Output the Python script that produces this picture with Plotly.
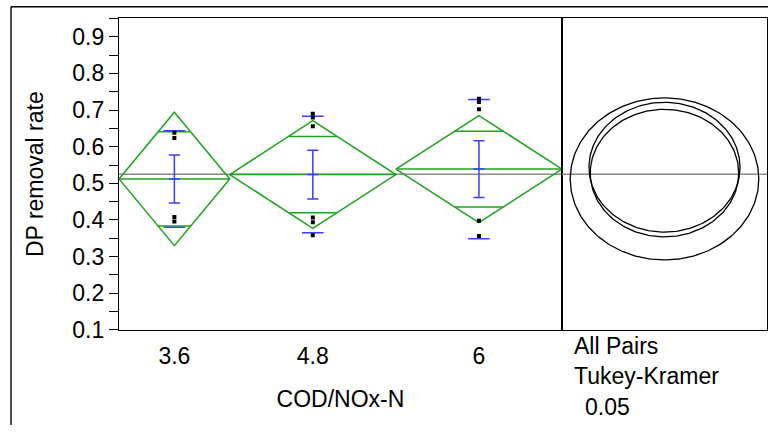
import numpy as np
import plotly.graph_objects as go

# ---------------- data ----------------
groups = ["3.6", "4.8", "6"]
group_n = [4, 6, 6]
group_mean = [0.512, 0.524, 0.539]
diamond_ci = [0.182, 0.147, 0.146]       # half height of the means diamonds
std_dev = [0.1315, 0.159, 0.190]         # blue std-dev lines
std_err = [0.0655, 0.0665, 0.0775]       # blue mean error bars
grand_mean = 0.525
points_36 = [0.638, 0.624, 0.408, 0.396]
points_48 = [0.690, 0.680, 0.656, 0.407, 0.394, 0.358]
points_6 = [0.731, 0.722, 0.702, 0.398, 0.356]
circle_center = [0.512, 0.528, 0.544]   # Tukey-Kramer comparison circles
circle_radius = [0.221, 0.174, 0.177]
y_tick_vals = [0.1, 0.15, 0.2, 0.25, 0.3, 0.35, 0.4, 0.45, 0.5, 0.55,
               0.6, 0.65, 0.7, 0.75, 0.8, 0.85, 0.9, 0.95]
y_tick_text = ["0.1", "", "0.2", "", "0.3", "", "0.4", "", "0.5", "",
               "0.6", "", "0.7", "", "0.8", "", "0.9", ""]
circle_labels = ["All Pairs", "Tukey-Kramer", "0.05"]

GREEN = "#1fa31f"
BLUE = "#3c3cff"
GRAY = "#8a8a8a"
FONT = "Liberation Sans, Arial, sans-serif"
FS = 23

W, H = 768, 438
xl, xr, xp = 119 / W, 562 / W, 767 / W
yb, yt = 1 - 340 / H, 1 - 19 / H

edges = np.concatenate([[0], np.cumsum(group_n)]).astype(float)
centers = (edges[:-1] + edges[1:]) / 2
xmax = edges[-1]
points = [points_36, points_48, points_6]

fig = go.Figure()

# grand mean line (main panel)
fig.add_trace(go.Scatter(x=[0, xmax], y=[grand_mean, grand_mean], mode="lines",
                         line=dict(color=GRAY, width=1.6), hoverinfo="skip",
                         showlegend=False, xaxis="x", yaxis="y"))

# means diamonds
for i in range(len(groups)):
    L, R, c = edges[i], edges[i + 1], centers[i]
    m, ci = group_mean[i], diamond_ci[i]
    hw = (R - L) / 2 * (1 - 1 / np.sqrt(2))
    ov = ci / np.sqrt(2)
    xs = [L, c, R, c, L, None, L, R, None, c - hw, c + hw, None, c - hw, c + hw]
    ys = [m, m + ci, m, m - ci, m, None, m, m, None, m + ov, m + ov, None, m - ov, m - ov]
    fig.add_trace(go.Scatter(x=xs, y=ys, mode="lines", line=dict(color=GREEN, width=1.5),
                             hoverinfo="skip", showlegend=False, xaxis="x", yaxis="y"))

# std dev lines and mean error bars
for i in range(len(groups)):
    c, m, sd, se = centers[i], group_mean[i], std_dev[i], std_err[i]
    sw, cw = 0.39, 0.2
    xs = [c - sw, c + sw, None, c - sw, c + sw, None,
          c, c, None, c - cw, c + cw, None, c - cw, c + cw, None, c - cw, c + cw]
    ys = [m + sd, m + sd, None, m - sd, m - sd, None,
          m - se, m + se, None, m + se, m + se, None, m, m, None, m - se, m - se]
    fig.add_trace(go.Scatter(x=xs, y=ys, mode="lines", line=dict(color=BLUE, width=1.5),
                             hoverinfo="skip", showlegend=False, xaxis="x", yaxis="y"))

# raw points
for i in range(len(groups)):
    fig.add_trace(go.Scatter(x=[centers[i]] * len(points[i]), y=points[i], mode="markers",
                             marker=dict(symbol="square", size=4, color="black"),
                             showlegend=False, xaxis="x", yaxis="y"))

# comparison circles panel
half = 0.2403
fig.add_trace(go.Scatter(x=[-half, half], y=[grand_mean, grand_mean], mode="lines",
                         line=dict(color=GRAY, width=1.6), hoverinfo="skip",
                         showlegend=False, xaxis="x3", yaxis="y2"))
t = np.linspace(0, 2 * np.pi, 240)
for cc, rr in zip(circle_center, circle_radius):
    fig.add_trace(go.Scatter(x=rr * np.cos(t), y=cc + rr * np.sin(t), mode="lines",
                             line=dict(color="black", width=1.3), hoverinfo="skip",
                             showlegend=False, xaxis="x3", yaxis="y2"))

axis_common = dict(showgrid=False, zeroline=False, linecolor="black", linewidth=1.4)

fig.update_layout(
    width=W, height=H, margin=dict(l=0, r=0, t=0, b=0),
    paper_bgcolor="white", plot_bgcolor="white",
    font=dict(family=FONT, size=FS, color="black"),
    xaxis=dict(domain=[xl, xr], range=[0, xmax], tickvals=list(centers), ticktext=groups,
               ticks="", showline=True, mirror=True, anchor="y", ticklabelstandoff=5,
               tickfont=dict(size=FS),
               title=dict(text="COD/NOx-N", standoff=23, font=dict(size=FS)),
               **axis_common),
    xaxis2=dict(domain=[xl, xr], range=[0, xmax], overlaying="x", anchor="y",
                tickvals=list(edges[1:-1]), ticks="outside", ticklen=7, tickwidth=1.4,
                tickcolor="black", showticklabels=False, showline=False,
                showgrid=False, zeroline=False),
    xaxis3=dict(domain=[xr, xp], range=[-half, half], anchor="y2", showticklabels=False,
                ticks="", showline=True, mirror=True, **axis_common),
    yaxis=dict(domain=[yb, yt], range=[0.1, 0.95], anchor="x", tickvals=y_tick_vals,
               ticktext=y_tick_text, ticks="outside", ticklen=9, tickwidth=1.4,
               tickcolor="black", showline=True, mirror=True, tickfont=dict(size=FS),
               title=dict(text="DP removal rate", standoff=22, font=dict(size=FS)),
               **axis_common),
    yaxis2=dict(domain=[yb, yt], range=[0.1, 0.95], anchor="x3", showticklabels=False,
                ticks="", showline=True, mirror=True, **axis_common),
    shapes=[
        dict(type="line", xref="paper", yref="paper", x0=11 / W, x1=1, y0=1 - 7 / H,
             y1=1 - 7 / H, line=dict(color="black", width=1.4)),
        dict(type="line", xref="paper", yref="paper", x0=11 / W, x1=11 / W, y0=0,
             y1=1 - 7 / H, line=dict(color="black", width=1.4)),
    ],
    annotations=[
        dict(text=circle_labels[0], x=572 / W, y=1 - 357 / H, xref="paper", yref="paper",
             xanchor="left", yanchor="middle", showarrow=False, font=dict(size=FS)),
        dict(text=circle_labels[1], x=572 / W, y=1 - 388 / H, xref="paper", yref="paper",
             xanchor="left", yanchor="middle", showarrow=False, font=dict(size=FS)),
        dict(text=circle_labels[2], x=583 / W, y=1 - 419 / H, xref="paper",
             yref="paper", xanchor="left", yanchor="middle", showarrow=False,
             font=dict(size=FS)),
    ],
)

fig.write_html("out.html")
